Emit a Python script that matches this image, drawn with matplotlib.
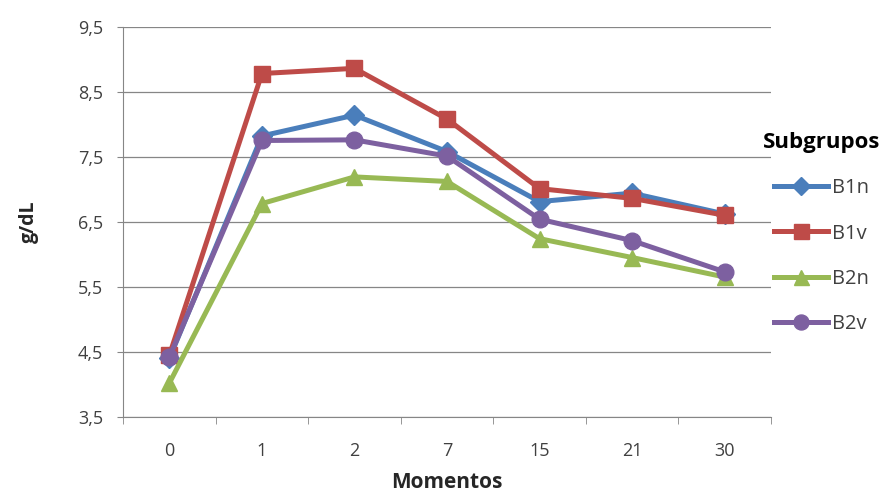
import matplotlib.pyplot as plt
import numpy as np
from matplotlib.ticker import FixedLocator

plt.rcParams['font.family'] = ['Open Sans', 'DejaVu Sans']

momentos = ['0', '1', '2', '7', '15', '21', '30']
b1n = [4.40, 7.82, 8.14, 7.58, 6.81, 6.94, 6.62]
b1v = [4.45, 8.78, 8.86, 8.08, 7.01, 6.86, 6.60]
b2n = [4.02, 6.78, 7.19, 7.12, 6.24, 5.95, 5.65]
b2v = [4.42, 7.75, 7.76, 7.51, 6.54, 6.21, 5.73]

series = [('B1n', b1n, '#4A7EBB', 'D', 10.5),
          ('B1v', b1v, '#BE4B48', 's', 12),
          ('B2n', b2n, '#98B954', '^', 12),
          ('B2v', b2v, '#7D60A0', 'o', 12)]

fig = plt.figure(figsize=(8.86, 4.95), dpi=100)
ax = fig.add_axes([0.139, 0.158, 0.731, 0.788])

x = np.arange(len(momentos))
for name, vals, col, mk, ms in series:
    ax.plot(x, vals, color=col, lw=3.6, marker=mk, ms=ms,
            markeredgecolor=col, markeredgewidth=1,
            solid_joinstyle='round', label=name)

ax.set_xlim(-0.5, len(momentos) - 0.5)
ax.set_ylim(3.5, 9.5)
yt = np.arange(3.5, 9.6, 1.0)
ax.set_yticks(yt)
ax.set_yticklabels([('%.1f' % v).replace('.', ',') for v in yt])
ax.set_xticks(x)
ax.set_xticklabels(momentos)
ax.xaxis.set_minor_locator(FixedLocator(np.arange(-0.5, len(momentos), 1.0)))
ax.tick_params(axis='x', which='major', length=0, pad=18)
ax.tick_params(axis='x', which='minor', length=5, color='#868686')
ax.tick_params(axis='y', length=4.5, color='#868686', pad=10)
ax.tick_params(labelsize=13, labelcolor='#404040')

ax.grid(axis='y', color='#868686', lw=0.9)
ax.set_axisbelow(True)
for s in ['top', 'right']:
    ax.spines[s].set_visible(False)
for s in ['left', 'bottom']:
    ax.spines[s].set_color('#868686')

ax.set_xlabel('Momentos', fontsize=15, fontweight='bold', color='#262626', labelpad=9)
ax.set_ylabel('g/dL', fontsize=14, fontweight='bold', color='#262626', labelpad=28)

leg = fig.legend(loc='upper left', bbox_to_anchor=(0.861, 0.733), frameon=False,
                 title='Subgrupos', fontsize=14.5, handlelength=2.65,
                 labelspacing=1.25, handletextpad=0.2, borderaxespad=0,
                 borderpad=0, markerscale=0.9)
leg.get_title().set_fontweight('bold')
leg.get_title().set_fontsize(16)
for t in leg.get_texts():
    t.set_color('#404040')

fig.savefig('out.png', dpi=100)
